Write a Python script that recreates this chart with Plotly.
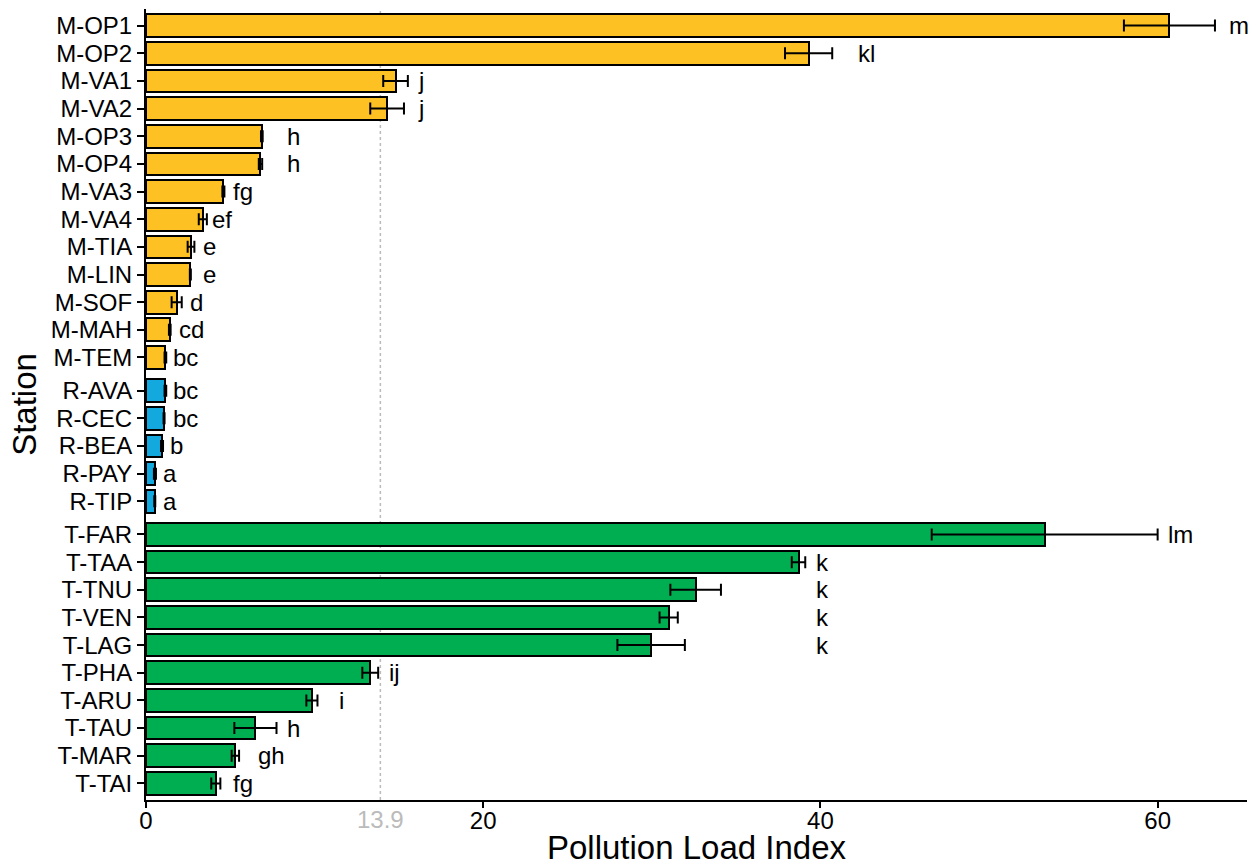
import plotly.graph_objects as go

# ---- data (top to bottom) ----
stations = ["M-OP1", "M-OP2", "M-VA1", "M-VA2", "M-OP3", "M-OP4", "M-VA3", "M-VA4",
            "M-TIA", "M-LIN", "M-SOF", "M-MAH", "M-TEM",
            "R-AVA", "R-CEC", "R-BEA", "R-PAY", "R-TIP",
            "T-FAR", "T-TAA", "T-TNU", "T-VEN", "T-LAG", "T-PHA", "T-ARU", "T-TAU",
            "T-MAR", "T-TAI"]
groups = ["M"] * 13 + ["R"] * 5 + ["T"] * 10
pli = [60.7, 39.3, 14.8, 14.3, 6.87, 6.79, 4.59, 3.37,
       2.67, 2.63, 1.82, 1.41, 1.15,
       1.15, 1.07, 0.95, 0.53, 0.52,
       53.3, 38.7, 32.6, 31.0, 29.96, 13.3, 9.84, 6.49,
       5.30, 4.14]
sd = [2.7, 1.4, 0.73, 1.0, 0.05, 0.1, 0.06, 0.24,
      0.2, 0.03, 0.3, 0.05, 0.05,
      0.05, 0.03, 0.06, 0.06, 0.03,
      6.7, 0.4, 1.5, 0.54, 2.0, 0.47, 0.33, 1.25,
      0.22, 0.27]
letters = ["m", "kl", "j", "j", "h", "h", "fg", "ef",
           "e", "e", "d", "cd", "bc",
           "bc", "bc", "b", "a", "a",
           "lm", "k", "k", "k", "k", "ij", "i", "h",
           "gh", "fg"]
letter_x = [64.3, 42.3, 16.2, 16.2, 8.4, 8.4, 5.2, 4.0,
            3.45, 3.45, 2.65, 2.0, 1.66,
            1.66, 1.66, 1.48, 1.09, 1.09,
            60.7, 39.8, 39.8, 39.8, 39.8, 14.5, 11.5, 8.4,
            6.7, 5.2]
REF_LINE = 13.9
x_ticks = [0, 20, 40, 60]

colors = {"M": "#FDC123", "R": "#14A9DE", "T": "#00AE52"}
group_order = ["M", "R", "T"]
GAP = 0.2
FONT = "Liberation Sans, Arial"

# y positions with small gaps between groups
ypos = [i + GAP * group_order.index(g) for i, g in enumerate(groups)]

fig = go.Figure()
for g in group_order:
    idx = [i for i, gg in enumerate(groups) if gg == g]
    fig.add_trace(go.Bar(
        orientation="h",
        y=[ypos[i] for i in idx],
        x=[pli[i] for i in idx],
        width=0.82,
        marker=dict(color=colors[g], line=dict(color="black", width=2)),
        error_x=dict(type="data", array=[sd[i] for i in idx], symmetric=True,
                     color="black", thickness=2, width=6),
        showlegend=False,
    ))

for i in range(len(stations)):
    fig.add_annotation(x=letter_x[i], y=ypos[i], text=letters[i], showarrow=False,
                       xanchor="left", yanchor="middle", xshift=-3,
                       font=dict(size=24, color="black", family=FONT))

# reference line
fig.add_shape(type="line", x0=REF_LINE, x1=REF_LINE, y0=0, y1=1, yref="paper",
              line=dict(color="#BBBBBB", width=1.5, dash="dot"), layer="below")
fig.add_annotation(x=REF_LINE, y=0, yref="paper", yshift=-4, text=str(REF_LINE),
                   showarrow=False, xanchor="center", yanchor="top",
                   font=dict(size=24, color="#BBBBBB", family=FONT))

y_max = ypos[-1] + 0.6
fig.update_layout(
    width=1257, height=866,
    margin=dict(l=146, r=10, t=9, b=66, autoexpand=False),
    plot_bgcolor="white", paper_bgcolor="white",
    bargap=0,
    font=dict(family=FONT, color="black"),
    xaxis=dict(range=[0, 65.3], tickvals=x_ticks, ticks="outside", ticklen=6,
               tickwidth=2, tickcolor="black", showline=True, linecolor="black",
               linewidth=2, showgrid=False, zeroline=False, automargin=False,
               ticklabelstandoff=-8,
               tickfont=dict(size=24, color="black"),
               title=dict(text="Pollution Load Index", font=dict(size=33), standoff=3)),
    yaxis=dict(range=[y_max, -0.6], tickvals=ypos, ticktext=stations,
               ticks="outside", ticklen=7, tickwidth=2, tickcolor="black",
               showline=True, linecolor="black", linewidth=2, showgrid=False,
               zeroline=False, automargin=False, tickfont=dict(size=24, color="black"),
               title=dict(text="Station", font=dict(size=33), standoff=4)),
)

fig.write_html("out.html", config={"displayModeBar": False},
               post_script="document.body.style.margin='0px';document.body.style.overflow='hidden';")
